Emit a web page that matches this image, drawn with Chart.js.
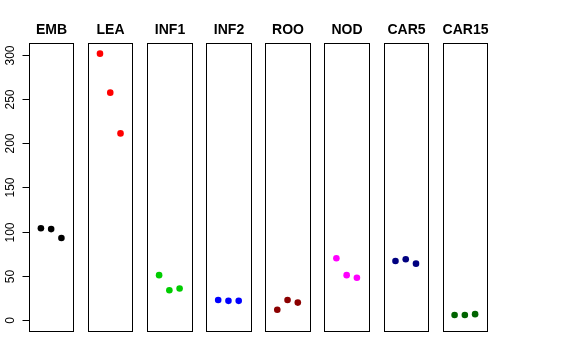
<!DOCTYPE html>
<html>
<head>
<meta charset="utf-8">
<script src="https://cdn.jsdelivr.net/npm/chart.js@4"></script>
<style>
html,body{margin:0;padding:0;background:#fff;}
#wrap{width:576px;height:360px;position:relative;}
</style>
</head>
<body>
<div id="wrap"><canvas id="c" width="576" height="360"></canvas></div>
<script>
// ---- data ----
const categories = ['EMB', 'LEA', 'INF1', 'INF2', 'ROO', 'NOD', 'CAR5', 'CAR15'];
const rep1 = [104, 301, 51, 23, 12, 70, 67, 6];
const rep2 = [103, 257, 34, 22, 23, 51, 69, 6];
const rep3 = [93, 211, 36, 22, 20, 48, 64, 7];
const colors = ['#000000', '#FF0000', '#00CD00', '#0000FF', '#8B0000', '#FF00FF', '#000080', '#006400'];
const yTicks = [0, 50, 100, 150, 200, 250, 300];

// ---- layout of panels in x units ----
const PANEL_MIN = -0.16, PANEL_MAX = 4.16, STEP = 5.76;
const YMIN = -12.04, YMAX = 313.04;

const datasets = categories.map((cat, i) => ({
  label: cat,
  data: [rep1[i], rep2[i], rep3[i]].map((v, j) => ({ x: i * STEP + j + 1, y: v })),
  backgroundColor: colors[i],
  borderWidth: 0,
  pointRadius: 3.3,
  pointHoverRadius: 3.3
}));

const panelPlugin = {
  id: 'panels',
  afterDatasetsDraw(chart) {
    const ctx = chart.ctx;
    const xs = chart.scales.x, ys = chart.scales.y;
    const top = Math.round(ys.getPixelForValue(YMAX)) + 0.5;
    const bot = Math.round(ys.getPixelForValue(YMIN)) + 0.5;
    ctx.save();
    ctx.strokeStyle = '#000';
    ctx.lineWidth = 1;
    categories.forEach((cat, i) => {
      const l = Math.round(xs.getPixelForValue(i * STEP + PANEL_MIN)) + 0.5;
      const r = Math.round(xs.getPixelForValue(i * STEP + PANEL_MAX)) + 0.5;
      ctx.strokeRect(l, top, r - l, bot - top);
      ctx.fillStyle = '#000';
      ctx.font = 'bold 14px "Liberation Sans", Arial, sans-serif';
      ctx.textAlign = 'center';
      ctx.textBaseline = 'alphabetic';
      ctx.fillText(cat, (l + r) / 2, 34);
    });
    // y axis ticks and rotated labels
    const axX = Math.round(xs.getPixelForValue(PANEL_MIN)) + 0.5;
    ctx.font = '12px "Liberation Sans", Arial, sans-serif';
    yTicks.forEach(v => {
      const y = Math.round(ys.getPixelForValue(v)) + 0.5;
      ctx.beginPath();
      ctx.moveTo(axX - 7, y);
      ctx.lineTo(axX, y);
      ctx.stroke();
      ctx.save();
      ctx.translate(13.5, y);
      ctx.rotate(-Math.PI / 2);
      ctx.textAlign = 'center';
      ctx.textBaseline = 'alphabetic';
      ctx.fillText(String(v), 0, 0);
      ctx.restore();
    });
    // vertical axis line over the tick range
    ctx.beginPath();
    ctx.moveTo(axX, Math.round(ys.getPixelForValue(yTicks[0])) + 0.5);
    ctx.lineTo(axX, Math.round(ys.getPixelForValue(yTicks[yTicks.length - 1])) + 0.5);
    ctx.stroke();
    ctx.restore();
  }
};

new Chart(document.getElementById('c'), {
  type: 'scatter',
  data: { datasets },
  options: {
    responsive: false,
    animation: false,
    devicePixelRatio: 1,
    layout: { padding: { left: 29, right: 576 - 487, top: 43, bottom: 360 - 331 } },
    plugins: { legend: { display: false }, tooltip: { enabled: false } },
    scales: {
      x: { type: 'linear', display: false, min: PANEL_MIN, max: 7 * STEP + PANEL_MAX },
      y: { type: 'linear', display: false, min: YMIN, max: YMAX }
    }
  },
  plugins: [panelPlugin]
});
</script>
</body>
</html>
